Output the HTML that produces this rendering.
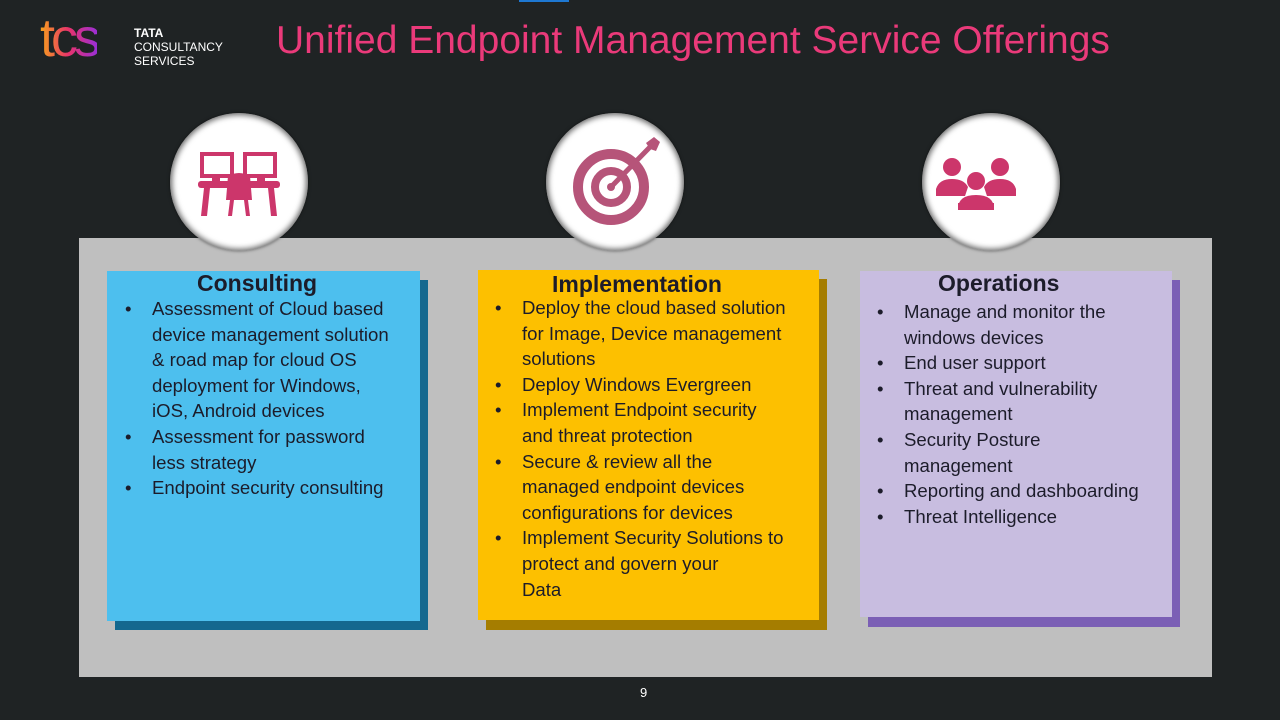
<!DOCTYPE html>
<html><head><meta charset="utf-8"><style>
*{margin:0;padding:0;box-sizing:border-box}
body{width:1280px;height:720px;background:#1f2324;position:relative;overflow:hidden;font-family:"Liberation Sans",sans-serif}
.abs{position:absolute}
.circ{position:absolute;width:138px;height:138px;border-radius:50%;background:#fff;box-shadow:0 0 6px 2px rgba(0,0,0,.6) inset, 0 0 3px rgba(0,0,0,.5);z-index:3}
.circ svg{position:absolute;left:0;top:0}
.box{position:absolute;z-index:2}
.title{position:absolute;font-weight:bold;font-size:23px;color:#1c1c2a}
ul{position:absolute;list-style:none;font-size:18.6px;line-height:25.6px;color:#1c1c2a;white-space:nowrap}
li{position:relative;padding-left:27px}
li:before{content:"•";position:absolute;left:0;top:0}
</style></head><body>
<div class="abs" style="left:519px;top:0;width:50px;height:2px;background:#1e78d2"></div>
<div class="abs" style="left:40px;top:8px;font-size:54px;letter-spacing:-4px;background:linear-gradient(90deg,#f7a21b,#e8326b,#9b2fd6);-webkit-background-clip:text;color:transparent;line-height:60px">tcs</div>
<div class="abs" style="left:134px;top:26px;color:#fff;font-size:12px;line-height:14px"><b>TATA</b><br>CONSULTANCY<br>SERVICES</div>
<div class="abs" style="left:276px;top:17px;color:#ea3a7a;font-size:39px;line-height:48px">Unified Endpoint Management Service Offerings</div>

<div class="abs" style="left:79px;top:238px;width:1133px;height:439px;background:#bfbfbf"></div>

<div class="box" style="left:115px;top:280px;width:313px;height:350px;background:#14688f"></div>
<div class="box" style="left:107px;top:271px;width:313px;height:350px;background:#4dbfee"></div>
<div class="box" style="left:486px;top:279px;width:341px;height:351px;background:#a57d00"></div>
<div class="box" style="left:478px;top:270px;width:341px;height:350px;background:#fdc000"></div>
<div class="box" style="left:868px;top:280px;width:312px;height:347px;background:#7b5fb5"></div>
<div class="box" style="left:860px;top:271px;width:312px;height:346px;background:#c8bde0"></div>

<div style="position:absolute;z-index:4;left:0;top:0">
<div class="title" style="left:197px;top:270px">Consulting</div>
<ul style="left:125px;top:296px">
<li>Assessment of Cloud based<br>device management solution<br>&amp; road map for cloud OS<br>deployment for Windows,<br>iOS, Android devices</li>
<li>Assessment for password<br>less strategy</li>
<li>Endpoint security consulting</li></ul>
<div class="title" style="left:552px;top:271px">Implementation</div>
<ul style="left:495px;top:295px">
<li>Deploy the cloud based solution<br>for Image, Device management<br>solutions</li>
<li>Deploy Windows Evergreen</li>
<li>Implement Endpoint security<br>and threat protection</li>
<li>Secure &amp; review all the<br>managed endpoint devices<br>configurations for devices</li>
<li>Implement Security Solutions to<br>protect and govern your<br>Data</li></ul>
<div class="title" style="left:938px;top:270px">Operations</div>
<ul style="left:877px;top:299px">
<li>Manage and monitor the<br>windows devices</li>
<li>End user support</li>
<li>Threat and vulnerability<br>management</li>
<li>Security Posture<br>management</li>
<li>Reporting and dashboarding</li>
<li>Threat Intelligence</li></ul>
</div>

<div class="circ" style="left:170px;top:113px"><svg width="138" height="138" fill="#cc366b">
<rect x="32" y="41" width="30" height="22" fill="none" stroke="#cc366b" stroke-width="4"/>
<rect x="75" y="41" width="30" height="22" fill="none" stroke="#cc366b" stroke-width="4"/>
<rect x="42" y="63" width="8" height="5"/><rect x="87" y="63" width="8" height="5"/>
<rect x="28" y="68" width="82" height="7" rx="3"/>
<path d="M34 75h6l-3 28h-6zM98 75h6l3 28h-6z"/>
<path d="M58 63q11-6 22 0l2 24h-26z"/>
<path d="M60 87h4l-2 16h-4zM74 87h4l2 16h-4z"/>
</svg></div>
<div class="circ" style="left:546px;top:113px"><svg width="138" height="138">
<g fill="none" stroke="#b65479">
<circle cx="65" cy="74" r="33" stroke-width="10"/>
<circle cx="65" cy="74" r="16" stroke-width="8"/>
</g><circle cx="65" cy="74" r="4" fill="#b65479"/>
<path d="M65 74L104 34" stroke="#b65479" stroke-width="5"/>
<path d="M100 30l8-6 6 5-4 9-6-2z" fill="#b65479"/>
</svg></div>
<div class="circ" style="left:922px;top:113px"><svg width="138" height="138" fill="#cc366b">
<circle cx="30" cy="54" r="9"/><circle cx="78" cy="54" r="9"/><circle cx="54" cy="68" r="9"/>
<path d="M14 76q3-10 16-10 12 0 16 8l-3 9h-29zM94 76q-3-10-16-10-12 0-16 8l3 9h29z"/>
<path d="M36 96q0-14 18-14t18 14v0h-36z"/><rect x="36" y="90" width="36" height="7"/>
</svg></div>

<div class="abs" style="left:640px;top:685px;color:#fff;font-size:13px">9</div>
</body></html>
